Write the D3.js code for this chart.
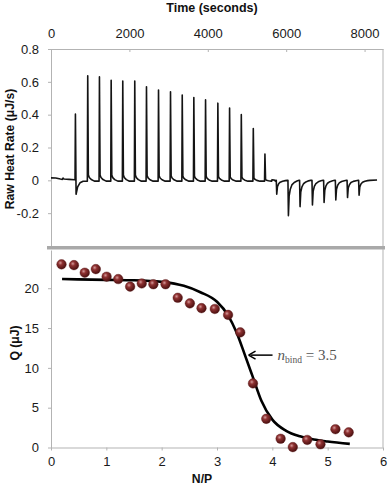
<!DOCTYPE html>
<html><head><meta charset="utf-8">
<script src="https://cdn.jsdelivr.net/npm/d3@7"></script>
<style>
html,body{margin:0;padding:0;background:#fff;}
svg{display:block;}
text{font-family:"Liberation Sans",Arial,sans-serif;}
</style></head>
<body>
<svg id="c" width="389" height="489"></svg>
<script>
// ---------- DATA ----------
// Top panel: raw ITC thermogram
const timeTicks = [0, 2000, 4000, 6000, 8000];
const rateTicks = [-0.2, 0, 0.2, 0.4, 0.6, 0.8];
const rateTickLabels = ["-0.2", "0", "0.2", "0.4", "0.6", "0.8"];
// injection times (s) and peak heat rates (uJ/s)
const injTimes = [613, 927, 1226, 1525, 1821, 2127, 2426, 2733, 3039, 3338, 3634, 3933, 4247, 4546, 4845, 5151, 5448,
                  5747, 6045, 6342, 6658, 6955, 7254, 7553, 7848];
const injPeaks = [0.40, 0.642, 0.635, 0.615, 0.61, 0.61, 0.575, 0.555, 0.545, 0.525, 0.51, 0.495, 0.475, 0.445, 0.405, 0.32, 0.165,
                  -0.085, -0.215, -0.16, -0.15, -0.135, -0.12, -0.105, -0.09];
// baseline segments of the raw trace (time, rate)
const preBaseline = [[0, 0.015], [120, 0.014], [240, 0.008], [290, 0.006], [306, 0.014], [330, 0.008], [460, 0.006], [600, 0.004]];
const firstDip = [[640, -0.085], [680, -0.04], [740, -0.015], [820, -0.006]];
const transition = [[5640, 0.004], [5690, 0.002], [5730, 0.0]];
const endBaseline = [[8318, 0.002]];
const posProfile = [[0, 0], [10, 1], [26, 0.06], [50, 0.035], [100, 0.015], [180, 0.0], [280, 0.0]];
const negProfile = [[0, 0], [12, 1], [30, 0.45], [60, 0.25], [100, 0.13], [160, 0.06], [230, 0.02], [285, 0.0]];

// Bottom panel: integrated heats
const npTicks = [0, 1, 2, 3, 4, 5, 6];
const qTicks = [0, 5, 10, 15, 20];
const npValues = [0.19, 0.415, 0.61, 0.81, 1.005, 1.215, 1.43, 1.64, 1.85, 2.07, 2.29, 2.51, 2.72, 2.96, 3.20, 3.42, 3.65, 3.89, 4.15, 4.37, 4.63, 4.87, 5.14, 5.38];
const qValues = [23.0, 22.9, 21.95, 22.4, 21.45, 21.15, 20.2, 20.6, 20.5, 20.5, 18.8, 18.1, 17.5, 17.4, 16.65, 14.45, 8.05, 3.6, 1.1, 0.05, 0.95, 0.4, 2.3, 1.9];
// fitted binding curve
const fitNP = [0.2, 1.0, 1.5, 2.0, 2.4, 2.7, 3.0, 3.2, 3.35, 3.5, 3.65, 3.8, 4.0, 4.25, 4.5, 4.75, 5.0, 5.4];
const fitQ = [21.15, 21.05, 21.0, 20.8, 20.3, 19.5, 18.3, 16.6, 14.5, 11.7, 8.8, 5.9, 3.5, 2.1, 1.4, 1.0, 0.75, 0.45];
const annotation = {np: 3.57, q: 11.6, n: "3.5"};

// ---------- DRAW ----------
const svg = d3.select("#c");
const defs = svg.append("defs");
const grad = defs.append("radialGradient").attr("id", "ball").attr("cx", "38%").attr("cy", "35%").attr("r", "65%");
grad.append("stop").attr("offset", "0%").attr("stop-color", "#d59a9a");
grad.append("stop").attr("offset", "35%").attr("stop-color", "#8e3131");
grad.append("stop").attr("offset", "100%").attr("stop-color", "#4a1010");

const L = 51, R = 383;
const axisCol = "#b3b3b3";

// top panel scales
const xT = d3.scaleLinear().domain([0, 8470]).range([L, R]);
const yT = d3.scaleLinear().domain([-0.4, 0.8]).range([246, 49]);
// bottom panel scales
const xB = d3.scaleLinear().domain([0, 6]).range([L, R]);
const yB = d3.scaleLinear().domain([0, 24.8]).range([447.5, 250]);

function styleAxis(g) {
  g.selectAll(".domain").attr("stroke", axisCol);
  g.selectAll(".tick line").attr("stroke", axisCol);
  g.selectAll(".tick text").attr("fill", "#1a1a1a").style("font-size", "13px").style("font-family", '"Liberation Sans",Arial,sans-serif');
}

// ----- top panel frame -----
svg.append("line").attr("x1", R).attr("x2", R).attr("y1", 49).attr("y2", 247).attr("stroke", axisCol);
const gTx = svg.append("g").attr("transform", `translate(0,49)`)
  .call(d3.axisTop(xT).tickValues(timeTicks).tickSize(-3).tickPadding(11).tickSizeOuter(0).tickFormat(d3.format("d")));
styleAxis(gTx);
const gTy = svg.append("g").attr("transform", `translate(${L},0)`)
  .call(d3.axisLeft(yT).tickValues(rateTicks).tickSize(3).tickPadding(9).tickSizeOuter(0).tickFormat((d, i) => rateTickLabels[i]));
styleAxis(gTy);

// build trace
let pts = preBaseline.slice();
injTimes.forEach((t, i) => {
  const h = injPeaks[i];
  if (h > 0) {
    const base = i === 0 ? 0.003 : -0.005;
    posProfile.forEach(([dt, f], k) => {
      if (i === 0 && dt > 20) return;
      pts.push([t + dt, base + h * f]);
    });
    if (i === 0) firstDip.forEach(p => pts.push(p));
  } else {
    negProfile.forEach(([dt, f]) => pts.push([t + dt, h * f]));
  }
  if (i === 16) transition.forEach(p => pts.push(p));
});
endBaseline.forEach(p => pts.push(p));
pts.sort((a, b) => a[0] - b[0]);

svg.append("path").datum(pts)
  .attr("fill", "none").attr("stroke", "#141414").attr("stroke-width", 1.6).attr("stroke-linejoin", "round")
  .attr("d", d3.line().x(d => xT(d[0])).y(d => yT(d[1])));

// separator between panels
svg.append("rect").attr("x", 47).attr("y", 246).attr("width", 338).attr("height", 3.5).attr("fill", "#a9a9a9");

// ----- bottom panel frame -----
svg.append("line").attr("x1", R).attr("x2", R).attr("y1", 249).attr("y2", 447.5).attr("stroke", axisCol);
const gBx = svg.append("g").attr("transform", `translate(0,447.5)`)
  .call(d3.axisBottom(xB).tickValues(npTicks).tickSize(3).tickPadding(6).tickSizeOuter(0).tickFormat(d3.format("d")));
styleAxis(gBx);
const gBy = svg.append("g").attr("transform", `translate(${L},0)`)
  .call(d3.axisLeft(yB).tickValues(qTicks).tickSize(3).tickPadding(9).tickSizeOuter(0).tickFormat(d3.format("d")));
styleAxis(gBy);

// fit curve
svg.append("path").datum(fitNP.map((x, i) => [x, fitQ[i]]))
  .attr("fill", "none").attr("stroke", "#000").attr("stroke-width", 2.6)
  .attr("d", d3.line().x(d => xB(d[0])).y(d => yB(d[1])).curve(d3.curveMonotoneX));

// points
svg.append("g").selectAll("circle").data(npValues.map((x, i) => [x, qValues[i]])).join("circle")
  .attr("cx", d => xB(d[0])).attr("cy", d => yB(d[1])).attr("r", 4.8)
  .attr("fill", "url(#ball)").attr("stroke", "#5a1a1a").attr("stroke-width", 0.4);

// annotation arrow + label
const ax = xB(annotation.np), ay = yB(annotation.q);
svg.append("line").attr("x1", ax + 24).attr("x2", ax + 2).attr("y1", ay).attr("y2", ay)
  .attr("stroke", "#000").attr("stroke-width", 1.5);
svg.append("path").attr("d", `M${ax},${ay} L${ax + 7},${ay - 4} M${ax},${ay} L${ax + 7},${ay + 4}`)
  .attr("stroke", "#000").attr("stroke-width", 1.5).attr("fill", "none");
const lab = svg.append("text").attr("x", ax + 29).attr("y", ay + 5)
  .style("font-family", '"Liberation Serif","Times New Roman",serif').style("font-size", "15px").attr("fill", "#555");
lab.append("tspan").style("font-style", "italic").text("n");
lab.append("tspan").attr("dy", 3).style("font-size", "9.5px").text("bind");
lab.append("tspan").attr("dy", -3).text(" = " + annotation.n);

// titles
svg.append("text").attr("x", 212).attr("y", 12).attr("text-anchor", "middle")
  .style("font-weight", "bold").style("font-size", "12.5px").attr("fill", "#111").text("Time (seconds)");
svg.append("text").attr("transform", "translate(14,149) rotate(-90)").attr("text-anchor", "middle")
  .style("font-weight", "bold").style("font-size", "12.2px").attr("fill", "#111").text("Raw Heat Rate (μJ/s)");
svg.append("text").attr("transform", "translate(19,343) rotate(-90)").attr("text-anchor", "middle")
  .style("font-weight", "bold").style("font-size", "12.2px").attr("fill", "#111").text("Q (μJ)");
svg.append("text").attr("x", 202).attr("y", 483).attr("text-anchor", "middle")
  .style("font-weight", "bold").style("font-size", "12.2px").attr("fill", "#111").text("N/P");
</script>
</body></html>
